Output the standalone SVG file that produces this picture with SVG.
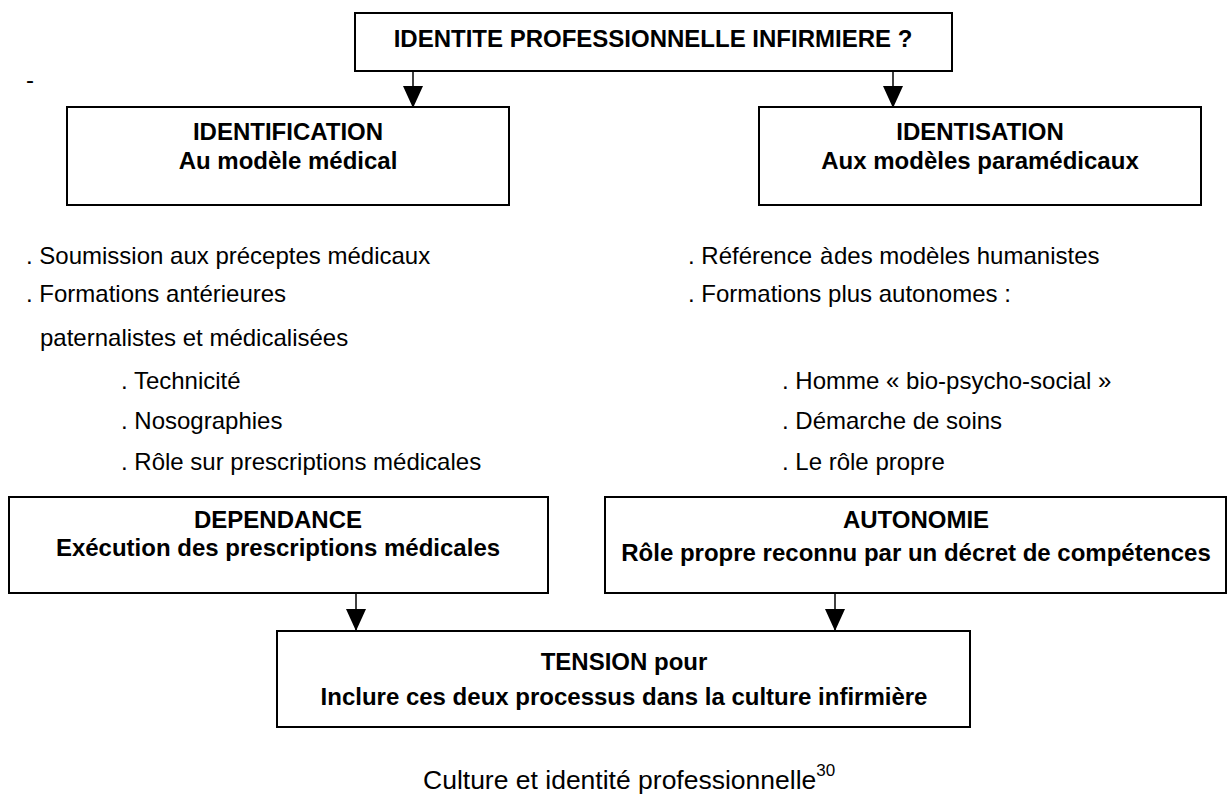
<svg xmlns="http://www.w3.org/2000/svg" width="1228" height="794" viewBox="0 0 1228 794">
<style>
.box{fill:#fff;stroke:#000;stroke-width:2}
.b{font-family:"Liberation Sans",Arial,sans-serif;font-size:24px;font-weight:bold;fill:#000;text-anchor:middle}
.t{font-family:"Liberation Sans",Arial,sans-serif;font-size:24px;fill:#000}
.cap{font-family:"Liberation Sans",Arial,sans-serif;font-size:26.5px;fill:#000}
.arr{stroke:#000;stroke-width:1.5;fill:none;marker-end:url(#ah)}
</style>
<defs>
<marker id="ah" markerUnits="userSpaceOnUse" markerWidth="22" markerHeight="20" refX="22" refY="10" orient="auto" viewBox="0 0 22 20">
<path d="M0,0 L22,10 L0,20 Z" fill="#000"/>
</marker>
</defs>
<rect width="1228" height="794" fill="#fff"/>
<text class="t" x="26" y="88">-</text>
<g id="connectors">
<line class="arr" x1="413" y1="71" x2="413" y2="108"/>
<line class="arr" x1="893" y1="71" x2="893" y2="108"/>
<line class="arr" x1="356" y1="593" x2="356" y2="631"/>
<line class="arr" x1="835" y1="593" x2="835" y2="631"/>
</g>
<g id="n-title">
<rect class="box" x="355" y="13" width="597" height="58"/>
<text class="b" x="653" y="47">IDENTITE PROFESSIONNELLE INFIRMIERE ?</text>
</g>
<g id="n-identification">
<rect class="box" x="67" y="107" width="442" height="98"/>
<text class="b" x="288" y="140">IDENTIFICATION</text>
<text class="b" x="288" y="169">Au modèle médical</text>
</g>
<g id="n-identisation">
<rect class="box" x="759" y="107" width="442" height="98"/>
<text class="b" x="980" y="140">IDENTISATION</text>
<text class="b" x="980" y="169">Aux modèles paramédicaux</text>
</g>
<g id="list-left">
<text class="t" x="26" y="264">. Soumission aux préceptes médicaux</text>
<text class="t" x="26" y="302">. Formations antérieures</text>
<text class="t" x="40" y="346">paternalistes et médicalisées</text>
<text class="t" x="121" y="389">. Technicité</text>
<text class="t" x="121" y="429">. Nosographies</text>
<text class="t" x="121" y="470">. Rôle sur prescriptions médicales</text>
</g>
<g id="list-right">
<text class="t" x="688" y="264">. Référence <tspan x="820">à</tspan><tspan x="834">des modèles humanistes</tspan></text>
<text class="t" x="688" y="302">. Formations plus autonomes :</text>
<text class="t" x="782" y="389">. Homme « bio-psycho-social »</text>
<text class="t" x="782" y="429">. Démarche de soins</text>
<text class="t" x="782" y="470">. Le rôle propre</text>
</g>
<g id="n-dependance">
<rect class="box" x="9" y="497" width="539" height="96"/>
<text class="b" x="278" y="528">DEPENDANCE</text>
<text class="b" x="278" y="556">Exécution des prescriptions médicales</text>
</g>
<g id="n-autonomie">
<rect class="box" x="605" y="497" width="621" height="96"/>
<text class="b" x="916" y="528">AUTONOMIE</text>
<text class="b" x="916" y="561">Rôle propre reconnu par un décret de compétences</text>
</g>
<g id="n-tension">
<rect class="box" x="277" y="631" width="693" height="96"/>
<text class="b" x="624" y="670">TENSION pour</text>
<text class="b" x="624" y="705">Inclure ces deux processus dans la culture infirmière</text>
</g>
<text class="cap" x="423" y="789">Culture et identité professionnelle<tspan font-size="17" dy="-13">30</tspan></text>
</svg>
